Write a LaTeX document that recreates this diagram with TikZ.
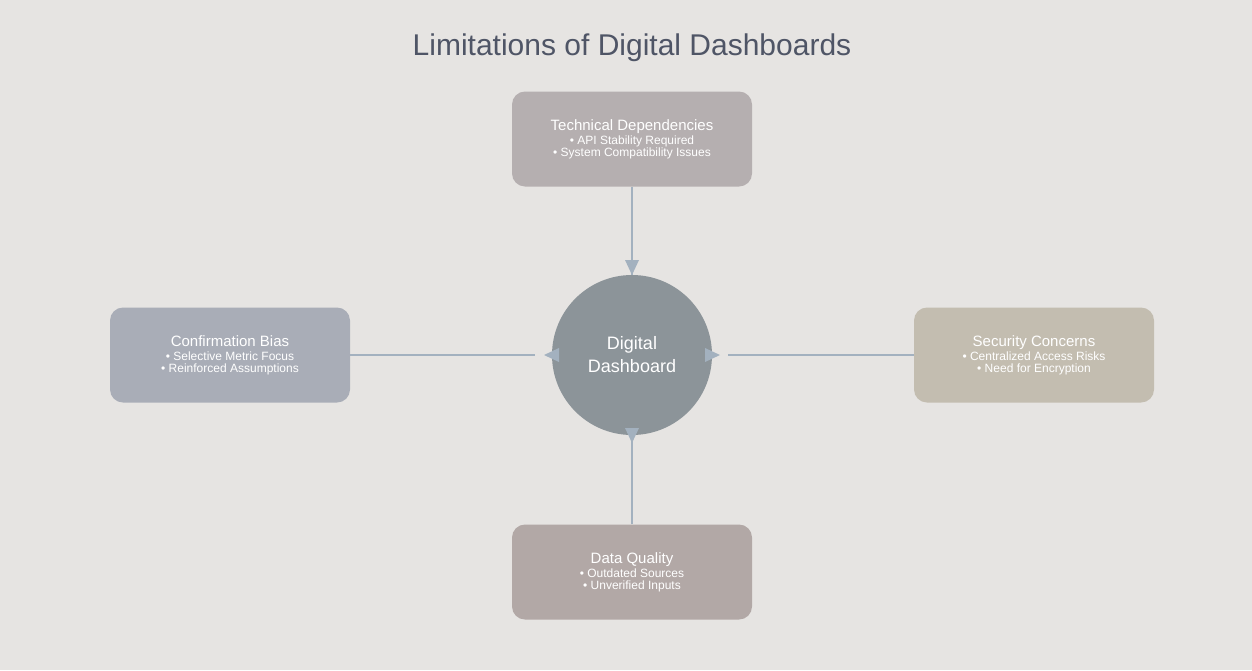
\documentclass[tikz,border=0pt]{standalone}
\usepackage{fontspec}
\setmainfont{Liberation Sans}
\usetikzlibrary{positioning}
\definecolor{bgcol}{HTML}{E6E4E2}
\definecolor{titlecol}{HTML}{4F5566}
\definecolor{linkcol}{HTML}{A3B1BF}
\definecolor{hubcol}{HTML}{8C9499}
\definecolor{techcol}{HTML}{B5AFB0}
\definecolor{biascol}{HTML}{A9ADB7}
\definecolor{secucol}{HTML}{C3BDB0}
\definecolor{qualcol}{HTML}{B2A8A6}
\tikzset{
  limitbox/.style={rounded corners=13pt,minimum width=240pt,minimum height=95pt,text=white,align=center,inner sep=0pt},
  link/.style={draw=linkcol,line width=2pt},
  tip/.style={fill=linkcol}
}
\newcommand{\boxtext}[3]{{\fontsize{15}{20}\selectfont #1}\\[2pt]{\fontsize{12}{20}\selectfont • #2}\\{\fontsize{12}{20}\selectfont • #3}}
\begin{document}
\begin{tikzpicture}[x=1pt,y=-1pt]
	\fill[bgcol] (0,0) rectangle (1252,670);
	\node[text=titlecol,font=\fontsize{30}{36}\selectfont] (title) at (632,48) {Limitations of Digital Dashboards};
	\node[circle,fill=hubcol,minimum size=160pt,text=white,align=center,font=\fontsize{18}{23}\selectfont] (hub) at (632,355) {Digital\\Dashboard};
	\node[limitbox,fill=techcol] (tech) at (632,139) {\boxtext{Technical Dependencies}{API Stability Required}{System Compatibility Issues}};
	\node[limitbox,fill=biascol] (bias) at (230,355) {\boxtext{Confirmation Bias}{Selective Metric Focus}{Reinforced Assumptions}};
	\node[limitbox,fill=secucol] (secu) at (1034,355) {\boxtext{Security Concerns}{Centralized Access Risks}{Need for Encryption}};
	\node[limitbox,fill=qualcol] (qual) at (632,572) {\boxtext{Data Quality}{Outdated Sources}{Unverified Inputs}};
	% connectors
	\coordinate (lend) at (535,355);
	\coordinate (rend) at (728,355);
	\draw[link] (tech.south) -- (hub.north);
	\draw[link] (bias.east) -- (lend);
	\draw[link] (secu.west) -- (rend);
	\draw[link] (qual.north) -- (hub.south);
	% arrow tips
	\fill[tip] (625,260) -- (639,260) -- (632,275) -- cycle;
	\fill[tip] (559,348) -- (559,362) -- (544,355) -- cycle;
	\fill[tip] (705,348) -- (705,362) -- (720,355) -- cycle;
	\fill[tip] (625,428) -- (639,428) -- (632,443) -- cycle;
\end{tikzpicture}
\end{document}
